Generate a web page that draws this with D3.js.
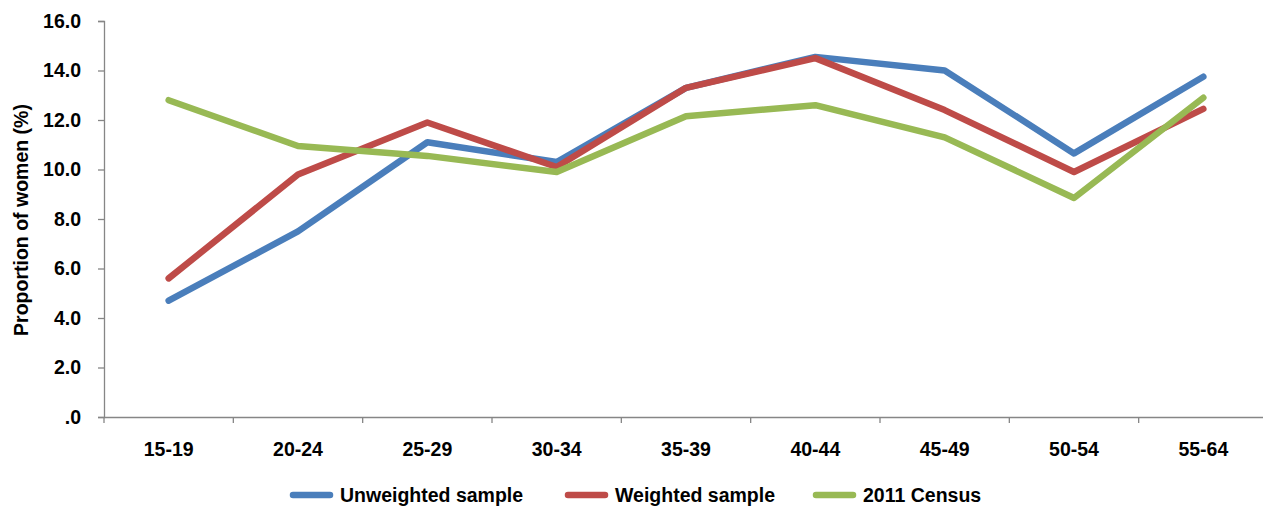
<!DOCTYPE html>
<html>
<head>
<meta charset="utf-8">
<script src="https://cdn.jsdelivr.net/npm/d3@7"></script>
<style>
  html, body { margin: 0; padding: 0; background: #fff; }
  svg { display: block; font-family: "Liberation Sans", "DejaVu Sans", sans-serif; }
</style>
</head>
<body>
<svg id="chart" width="1263" height="508"></svg>
<script>
const categories = ["15-19", "20-24", "25-29", "30-34", "35-39", "40-44", "45-49", "50-54", "55-64"];
const unweighted = [4.7, 7.5, 11.1, 10.3, 13.3, 14.55, 14.0, 10.65, 13.75];
const weighted   = [5.6, 9.8, 11.9, 10.1, 13.3, 14.5, 12.4, 9.9, 12.45];
const census     = [12.8, 10.95, 10.55, 9.9, 12.15, 12.6, 11.3, 8.85, 12.9];
const seriesNames = ["Unweighted sample", "Weighted sample", "2011 Census"];
const seriesColors = ["#4A7EBB", "#BE4B48", "#98B954"];
const yTicks = [0, 2, 4, 6, 8, 10, 12, 14, 16];
const yTickLabels = [".0", "2.0", "4.0", "6.0", "8.0", "10.0", "12.0", "14.0", "16.0"];

(function () {
const svg = d3.select("#chart");
const pLeft = 104, pRight = 1268, pTop = 21, pBottom = 417;

const x = d3.scaleBand().domain(categories).range([pLeft, pRight]).paddingInner(0).paddingOuter(0);
const y = d3.scaleLinear().domain([0, 16]).range([pBottom, pTop]);

const axisColor = "#868686";
const fontSize = 19.5;

// Y axis
const yAxis = d3.axisLeft(y).tickValues(yTicks).tickSize(6).tickPadding(17)
  .tickFormat((d, i) => yTickLabels[i]);
const gy = svg.append("g").attr("transform", `translate(${pLeft},0)`).call(yAxis);
gy.select(".domain").attr("stroke", axisColor).attr("stroke-width", 1.3);
gy.selectAll(".tick line").attr("stroke", axisColor).attr("stroke-width", 1.3);
gy.selectAll(".tick text").attr("fill", "#000").attr("font-size", fontSize).attr("font-weight", "bold");

// X axis
const xAxis = d3.axisBottom(x).tickSize(0).tickPadding(25);
const gx = svg.append("g").attr("transform", `translate(0,${pBottom})`).call(xAxis);
gx.select(".domain").attr("stroke", axisColor).attr("stroke-width", 1.3);
gx.selectAll(".tick text").attr("fill", "#000").attr("font-size", fontSize).attr("font-weight", "bold");
const boundaries = categories.map(c => x(c)).concat([x(categories[categories.length - 1]) + x.bandwidth()]);
gx.selectAll(".bt").data(boundaries).enter().append("line")
  .attr("x1", d => d).attr("x2", d => d).attr("y1", 0).attr("y2", 6)
  .attr("stroke", axisColor).attr("stroke-width", 1.3);

// Y title
svg.append("text")
  .attr("transform", `translate(28,220) rotate(-90)`)
  .attr("text-anchor", "middle")
  .attr("font-size", fontSize).attr("font-weight", "bold").attr("fill", "#000")
  .text("Proportion of women (%)");

// Lines
const data = [unweighted, weighted, census];
const line = d3.line()
  .x((d, i) => x(categories[i]) + x.bandwidth() / 2)
  .y(d => y(d));
data.forEach((vals, k) => {
  svg.append("path")
    .datum(vals)
    .attr("d", line)
    .attr("fill", "none")
    .attr("stroke", seriesColors[k])
    .attr("stroke-width", 6.5)
    .attr("stroke-linecap", "round")
    .attr("stroke-linejoin", "round");
});

// Legend
const legendX = [290, 565, 813];
const legendY = 495;
seriesNames.forEach((name, k) => {
  const g = svg.append("g").attr("transform", `translate(${legendX[k]},${legendY})`);
  g.append("line").attr("x1", 3).attr("x2", 40).attr("y1", 0).attr("y2", 0)
    .attr("stroke", seriesColors[k]).attr("stroke-width", 6.5).attr("stroke-linecap", "round");
  g.append("text").attr("x", 50).attr("y", 0).attr("dy", "0.36em")
    .attr("font-size", fontSize).attr("font-weight", "bold").attr("fill", "#000").text(name);
});
})();
</script>
</body>
</html>
